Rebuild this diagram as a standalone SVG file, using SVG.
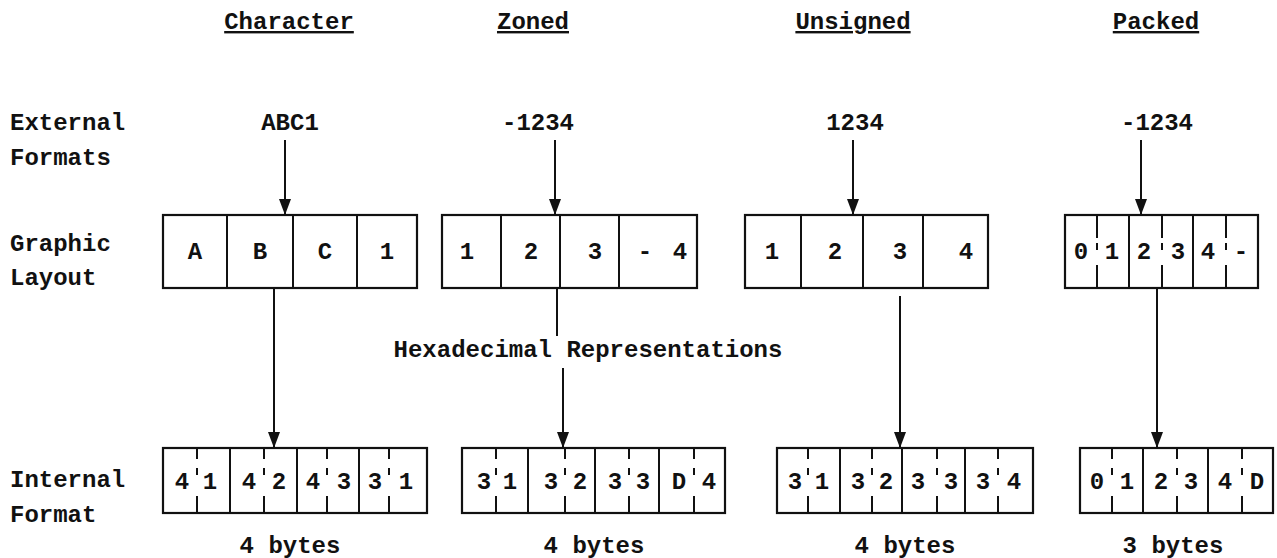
<svg xmlns="http://www.w3.org/2000/svg" width="1277" height="558" viewBox="0 0 1277 558">
<style>
text{font-family:"Liberation Mono","DejaVu Sans Mono",monospace;font-size:24px;font-weight:bold;fill:#111}
.c{text-anchor:middle}
.u{text-decoration:underline}
.box{fill:#fff;stroke:#111;stroke-width:2.2}
.div{stroke:#111;stroke-width:2}
.half{stroke:#111;stroke-width:2;stroke-dasharray:23 5 7 15 23}
.halfi{stroke:#111;stroke-width:2;stroke-dasharray:11 9 7 21 17}
.ln{stroke:#111;stroke-width:2;fill:none}
</style>
<defs>
<marker id="ah2" viewBox="0 0 16 12" refX="16" refY="6" markerWidth="16" markerHeight="12" markerUnits="userSpaceOnUse" orient="auto"><path d="M0,0 L16,6 L0,12 Z" fill="#111"/></marker>
</defs>

<g id="headings">
<text class="c u" x="289" y="29">Character</text>
<text class="c u" x="533" y="29">Zoned</text>
<text class="c u" x="853" y="29">Unsigned</text>
<text class="c u" x="1156" y="29">Packed</text>
</g>

<g id="row-labels">
<text x="10" y="130">External</text>
<text x="10" y="165">Formats</text>
<text x="10" y="251">Graphic</text>
<text x="10" y="285">Layout</text>
<text x="10" y="487">Internal</text>
<text x="10" y="522">Format</text>
</g>

<g id="external-values">
<text class="c" x="290" y="130">ABC1</text>
<text class="c" x="538" y="130">-1234</text>
<text class="c" x="855" y="130">1234</text>
<text class="c" x="1157" y="130">-1234</text>
</g>

<g id="graphic-character">
<rect class="box" x="163" y="215" width="254" height="73"/>
<line class="div" x1="227" y1="215" x2="227" y2="288"/>
<line class="div" x1="293" y1="215" x2="293" y2="288"/>
<line class="div" x1="357" y1="215" x2="357" y2="288"/>
<text class="c" x="195" y="259">A</text>
<text class="c" x="260" y="259">B</text>
<text class="c" x="325" y="259">C</text>
<text class="c" x="387" y="259">1</text>
</g>

<g id="graphic-zoned">
<rect class="box" x="442" y="215" width="255" height="73"/>
<line class="div" x1="501" y1="215" x2="501" y2="288"/>
<line class="div" x1="560" y1="215" x2="560" y2="288"/>
<line class="div" x1="619" y1="215" x2="619" y2="288"/>
<text class="c" x="467" y="259">1</text>
<text class="c" x="531" y="259">2</text>
<text class="c" x="595" y="259">3</text>
<text class="c" x="645" y="259">-</text>
<text class="c" x="680" y="259">4</text>
</g>

<g id="graphic-unsigned">
<rect class="box" x="745" y="215" width="243" height="73"/>
<line class="div" x1="801" y1="215" x2="801" y2="288"/>
<line class="div" x1="863" y1="215" x2="863" y2="288"/>
<line class="div" x1="923" y1="215" x2="923" y2="288"/>
<text class="c" x="772" y="259">1</text>
<text class="c" x="835" y="259">2</text>
<text class="c" x="900" y="259">3</text>
<text class="c" x="966" y="259">4</text>
</g>

<g id="graphic-packed">
<rect class="box" x="1065" y="215" width="193" height="73"/>
<line class="half" x1="1097" y1="215" x2="1097" y2="288"/>
<line class="div" x1="1129" y1="215" x2="1129" y2="288"/>
<line class="half" x1="1162" y1="215" x2="1162" y2="288"/>
<line class="div" x1="1193" y1="215" x2="1193" y2="288"/>
<line class="half" x1="1226" y1="215" x2="1226" y2="288"/>
<text class="c" x="1081" y="259">0</text>
<text class="c" x="1112" y="259">1</text>
<text class="c" x="1144" y="259">2</text>
<text class="c" x="1178" y="259">3</text>
<text class="c" x="1208" y="259">4</text>
<text class="c" x="1241" y="259">-</text>
</g>

<g id="hex-label">
<text class="c" x="588" y="357">Hexadecimal Representations</text>
</g>

<g id="internal-character">
<rect class="box" x="163" y="448" width="264" height="65"/>
<line class="halfi" x1="197" y1="448" x2="197" y2="513"/>
<line class="div" x1="230" y1="448" x2="230" y2="513"/>
<line class="halfi" x1="264" y1="448" x2="264" y2="513"/>
<line class="div" x1="297" y1="448" x2="297" y2="513"/>
<line class="halfi" x1="327" y1="448" x2="327" y2="513"/>
<line class="div" x1="359" y1="448" x2="359" y2="513"/>
<line class="halfi" x1="389" y1="448" x2="389" y2="513"/>
<text class="c" x="182" y="489">4</text>
<text class="c" x="210" y="489">1</text>
<text class="c" x="249" y="489">4</text>
<text class="c" x="279" y="489">2</text>
<text class="c" x="313" y="489">4</text>
<text class="c" x="344" y="489">3</text>
<text class="c" x="375" y="489">3</text>
<text class="c" x="406" y="489">1</text>
</g>

<g id="internal-zoned">
<rect class="box" x="462" y="448" width="263" height="65"/>
<line class="halfi" x1="496" y1="448" x2="496" y2="513"/>
<line class="div" x1="528" y1="448" x2="528" y2="513"/>
<line class="halfi" x1="565" y1="448" x2="565" y2="513"/>
<line class="div" x1="595" y1="448" x2="595" y2="513"/>
<line class="halfi" x1="629" y1="448" x2="629" y2="513"/>
<line class="div" x1="659" y1="448" x2="659" y2="513"/>
<line class="halfi" x1="694" y1="448" x2="694" y2="513"/>
<text class="c" x="484" y="489">3</text>
<text class="c" x="510" y="489">1</text>
<text class="c" x="551" y="489">3</text>
<text class="c" x="580" y="489">2</text>
<text class="c" x="615" y="489">3</text>
<text class="c" x="643" y="489">3</text>
<text class="c" x="679" y="489">D</text>
<text class="c" x="709" y="489">4</text>
</g>

<g id="internal-unsigned">
<rect class="box" x="777" y="448" width="256" height="65"/>
<line class="halfi" x1="808" y1="448" x2="808" y2="513"/>
<line class="div" x1="840" y1="448" x2="840" y2="513"/>
<line class="halfi" x1="872" y1="448" x2="872" y2="513"/>
<line class="div" x1="902" y1="448" x2="902" y2="513"/>
<line class="halfi" x1="937" y1="448" x2="937" y2="513"/>
<line class="div" x1="965" y1="448" x2="965" y2="513"/>
<line class="halfi" x1="998" y1="448" x2="998" y2="513"/>
<text class="c" x="795" y="489">3</text>
<text class="c" x="822" y="489">1</text>
<text class="c" x="858" y="489">3</text>
<text class="c" x="886" y="489">2</text>
<text class="c" x="918" y="489">3</text>
<text class="c" x="951" y="489">3</text>
<text class="c" x="983" y="489">3</text>
<text class="c" x="1014" y="489">4</text>
</g>

<g id="internal-packed">
<rect class="box" x="1080" y="448" width="193" height="65"/>
<line class="halfi" x1="1112" y1="448" x2="1112" y2="513"/>
<line class="div" x1="1143" y1="448" x2="1143" y2="513"/>
<line class="halfi" x1="1177" y1="448" x2="1177" y2="513"/>
<line class="div" x1="1208" y1="448" x2="1208" y2="513"/>
<line class="halfi" x1="1242" y1="448" x2="1242" y2="513"/>
<text class="c" x="1097" y="489">0</text>
<text class="c" x="1127" y="489">1</text>
<text class="c" x="1161" y="489">2</text>
<text class="c" x="1191" y="489">3</text>
<text class="c" x="1225" y="489">4</text>
<text class="c" x="1257" y="489">D</text>
</g>

<g id="byte-labels">
<text class="c" x="290" y="553">4 bytes</text>
<text class="c" x="594" y="553">4 bytes</text>
<text class="c" x="905" y="553">4 bytes</text>
<text class="c" x="1173" y="553">3 bytes</text>
</g>

<g id="connectors">
<line class="ln" x1="285" y1="140" x2="285" y2="215" marker-end="url(#ah2)"/>
<line class="ln" x1="555" y1="140" x2="555" y2="215" marker-end="url(#ah2)"/>
<line class="ln" x1="853" y1="140" x2="853" y2="215" marker-end="url(#ah2)"/>
<line class="ln" x1="1141" y1="140" x2="1141" y2="215" marker-end="url(#ah2)"/>
<line class="ln" x1="274" y1="288" x2="274" y2="448" marker-end="url(#ah2)"/>
<line class="ln" x1="557" y1="288" x2="557" y2="336"/>
<line class="ln" x1="563" y1="368" x2="563" y2="448" marker-end="url(#ah2)"/>
<line class="ln" x1="900" y1="296" x2="900" y2="448" marker-end="url(#ah2)"/>
<line class="ln" x1="1157" y1="288" x2="1157" y2="448" marker-end="url(#ah2)"/>
</g>
</svg>
